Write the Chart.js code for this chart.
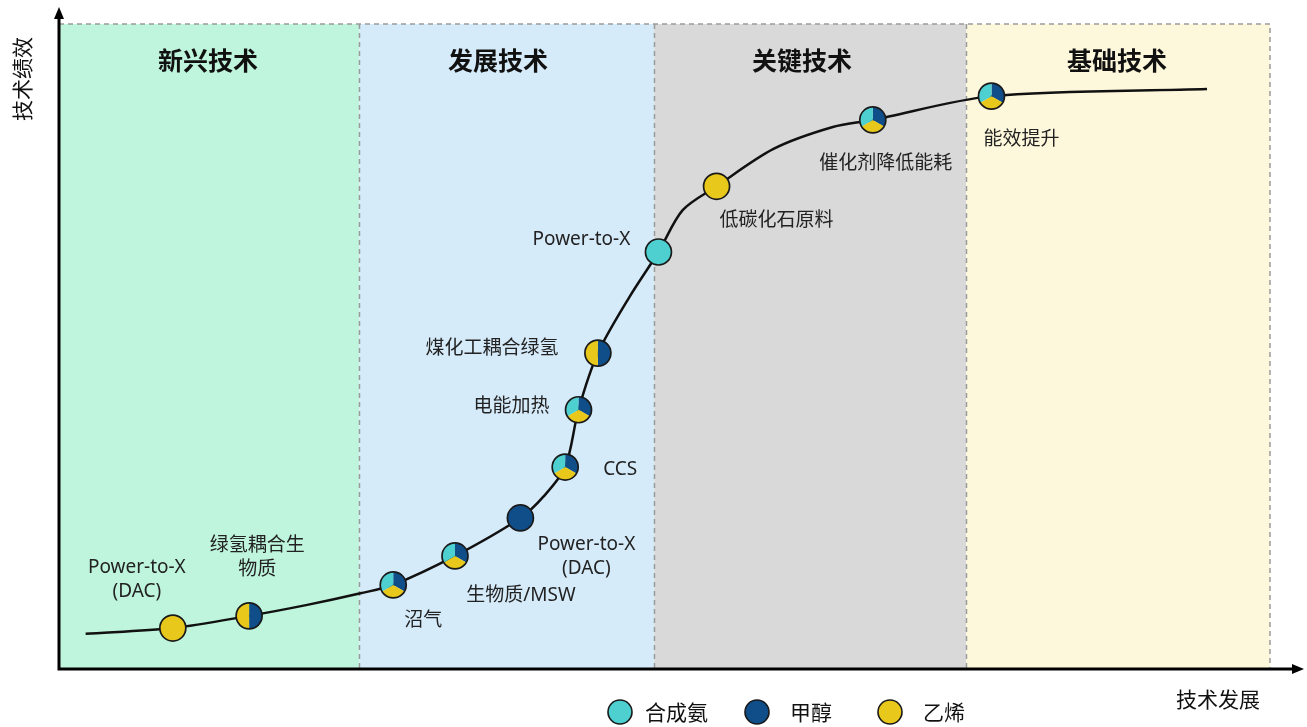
<!DOCTYPE html>
<html>
<head>
<meta charset="utf-8">
<script src="https://cdn.jsdelivr.net/npm/chart.js@4"></script>
<style>
  html, body { margin: 0; padding: 0; background: #fff; }
  #techCurve { display: block; }
</style>
</head>
<body>
<canvas id="techCurve" width="1307" height="727"></canvas>
<script>
// stages along the x axis (value units 0..100)
const stageNames = ['新兴技术', '发展技术', '关键技术', '基础技术'];
const stageEdges = [0, 24.8, 49.15, 74.9, 100];

// the S curve
const curveX = [2.2, 9.4, 15.7, 20.5, 24.9, 27.6, 32.7, 38.1, 40.0, 41.8, 42.9, 44.5, 47.1, 49.5, 51.5, 54.3, 59.0, 63.9, 67.2, 77.0, 94.8];
const curveY = [5.3, 6.2, 8.1, 9.8, 11.6, 12.9, 17.4, 23.3, 26.6, 31.2, 40.1, 48.9, 57.6, 64.6, 71.1, 74.8, 80.6, 84.0, 85.1, 88.8, 89.9];

// technologies on the curve
const techNames = ['Power-to-X\n(DAC)', '绿氢耦合生\n物质', '沼气', '生物质/MSW', 'Power-to-X\n(DAC)', 'CCS',
  '电能加热', '煤化工耦合绿氢', 'Power-to-X', '低碳化石原料', '催化剂降低能耗', '能效提升'];
const techX = [9.4, 15.7, 27.6, 32.7, 38.1, 41.8, 42.9, 44.5, 49.5, 54.3, 67.2, 77.0];
const techY = [6.2, 8.1, 12.9, 17.4, 23.3, 31.2, 40.1, 48.9, 64.6, 74.8, 85.1, 88.8];

// which products each technology applies to: 合成氨, 甲醇, 乙烯
const productNames = ['合成氨', '甲醇', '乙烯'];
const ammonia  = [0, 0, 1, 1, 0, 1, 1, 0, 1, 0, 1, 1];
const methanol = [0, 1, 1, 1, 1, 1, 1, 1, 0, 0, 1, 1];
const ethylene = [1, 1, 1, 1, 0, 1, 1, 1, 0, 1, 1, 1];

// styles
const stageColors = ['#bff5dc', '#d6ebfa', '#d9d9d9', '#fdf8dc'];
const titleX = [208, 498, 802, 1117];
const productColors = ['#4ecfd0', '#0f4e88', '#e8c81a'];
const sliceOrder = [1, 2, 0]; // clockwise from 12 o'clock
const labelOffsets = [[-36, -60], [8, -70], [30, 36], [66, 40], [66, 27], [55, 3],
  [-67, -3], [-106, -4], [-77, -12], [60, 34], [13, 44], [30, 43]];
const legendDots = [620, 757, 890];
const legendTexts = [645, 790, 923];
const LABEL_FONT = '19px "Noto Sans", "Noto Sans CJK SC", sans-serif';

const sCurvePlugin = {
  id: 'sCurve',
  beforeDatasetsDraw(chart) {
    const { ctx, chartArea: a, scales: { x } } = chart;
    ctx.save();
    for (let i = 0; i < stageNames.length; i++) {
      const l = x.getPixelForValue(stageEdges[i]);
      const r = x.getPixelForValue(stageEdges[i + 1]);
      ctx.fillStyle = stageColors[i];
      ctx.fillRect(l, a.top, r - l, a.bottom - a.top);
    }
    // dashed frame
    ctx.strokeStyle = '#9a9a9a';
    ctx.lineWidth = 1.5;
    ctx.setLineDash([5, 4]);
    ctx.beginPath();
    ctx.moveTo(a.left, a.top);
    ctx.lineTo(a.right, a.top);
    ctx.lineTo(a.right, a.bottom);
    for (let i = 1; i < stageEdges.length - 1; i++) {
      const px = Math.round(x.getPixelForValue(stageEdges[i])) + 0.5;
      ctx.moveTo(px, a.top);
      ctx.lineTo(px, a.bottom);
    }
    ctx.stroke();
    ctx.setLineDash([]);
    // stage titles
    ctx.fillStyle = '#111';
    ctx.font = 'bold 25px "Noto Sans CJK SC", sans-serif';
    ctx.textAlign = 'center';
    ctx.textBaseline = 'middle';
    stageNames.forEach((name, i) => ctx.fillText(name, titleX[i], 60));
    ctx.restore();
  },
  afterDatasetsDraw(chart) {
    const { ctx, chartArea: a } = chart;
    const pts = chart.getDatasetMeta(1).data;
    ctx.save();
    // axes with arrows
    ctx.strokeStyle = '#000';
    ctx.fillStyle = '#000';
    ctx.lineWidth = 3;
    ctx.beginPath();
    ctx.moveTo(a.left, a.bottom + 1);
    ctx.lineTo(a.left, 16);
    ctx.moveTo(a.left - 1.5, a.bottom + 1);
    ctx.lineTo(1295, a.bottom + 1);
    ctx.stroke();
    ctx.beginPath();
    ctx.moveTo(a.left, 7);
    ctx.lineTo(a.left - 5, 19);
    ctx.lineTo(a.left + 5, 19);
    ctx.closePath();
    ctx.fill();
    ctx.beginPath();
    ctx.moveTo(1304, a.bottom + 1);
    ctx.lineTo(1292, a.bottom - 4);
    ctx.lineTo(1292, a.bottom + 6);
    ctx.closePath();
    ctx.fill();

    // pie markers
    const shares = [ammonia, methanol, ethylene];
    pts.forEach((p, i) => {
      const r = 13;
      const total = shares.reduce((s, arr) => s + arr[i], 0);
      let start = -Math.PI / 2;
      sliceOrder.forEach(k => {
        const v = shares[k][i];
        if (!v) return;
        const end = start + v / total * Math.PI * 2;
        ctx.beginPath();
        ctx.moveTo(p.x, p.y);
        ctx.arc(p.x, p.y, r, start, end);
        ctx.closePath();
        ctx.fillStyle = productColors[k];
        ctx.fill();
        start = end;
      });
      ctx.beginPath();
      ctx.arc(p.x, p.y, r, 0, Math.PI * 2);
      ctx.lineWidth = 1.7;
      ctx.strokeStyle = '#1a1a1a';
      ctx.stroke();

      // label
      ctx.fillStyle = '#222';
      ctx.font = LABEL_FONT;
      ctx.textAlign = 'center';
      ctx.textBaseline = 'middle';
      techNames[i].split('\n').forEach((line, j) => {
        ctx.fillText(line, p.x + labelOffsets[i][0], p.y + labelOffsets[i][1] + j * 23.5);
      });
    });

    // axis titles
    ctx.fillStyle = '#111';
    ctx.font = '21px "Noto Sans CJK SC", sans-serif';
    ctx.textAlign = 'center';
    ctx.textBaseline = 'middle';
    ctx.fillText('技术发展', 1218, 699);
    ctx.save();
    ctx.translate(22, 79);
    ctx.rotate(-Math.PI / 2);
    ctx.fillText('技术绩效', 0, 0);
    ctx.restore();

    // legend
    ctx.font = '21px "Noto Sans CJK SC", sans-serif';
    ctx.textAlign = 'left';
    productNames.forEach((name, k) => {
      ctx.beginPath();
      ctx.arc(legendDots[k], 712, 12, 0, Math.PI * 2);
      ctx.fillStyle = productColors[k];
      ctx.fill();
      ctx.lineWidth = 1.6;
      ctx.strokeStyle = '#1a1a1a';
      ctx.stroke();
      ctx.fillStyle = '#111';
      ctx.fillText(name, legendTexts[k], 712);
    });
    ctx.restore();
  }
};

const canvas = document.getElementById('techCurve');
new Chart(canvas.getContext('2d'), {
  type: 'scatter',
  data: {
    datasets: [
      {
        type: 'line',
        data: curveX.map((v, i) => ({ x: v, y: curveY[i] })),
        borderColor: '#111',
        borderWidth: 2.5,
        pointRadius: 0,
        fill: false,
        tension: 0.3,
        clip: false
      },
      {
        data: techX.map((v, i) => ({ x: v, y: techY[i] })),
        pointRadius: 0,
        backgroundColor: 'transparent',
        borderWidth: 0
      }
    ]
  },
  options: {
    responsive: false,
    animation: false,
    events: [],
    layout: { padding: { left: 59, right: 37, top: 24, bottom: 59 } },
    scales: {
      x: { type: 'linear', min: 0, max: 100, display: false },
      y: { type: 'linear', min: 0, max: 100, display: false }
    },
    plugins: {
      legend: { display: false },
      tooltip: { enabled: false }
    }
  },
  plugins: [sCurvePlugin]
});
</script>
</body>
</html>
